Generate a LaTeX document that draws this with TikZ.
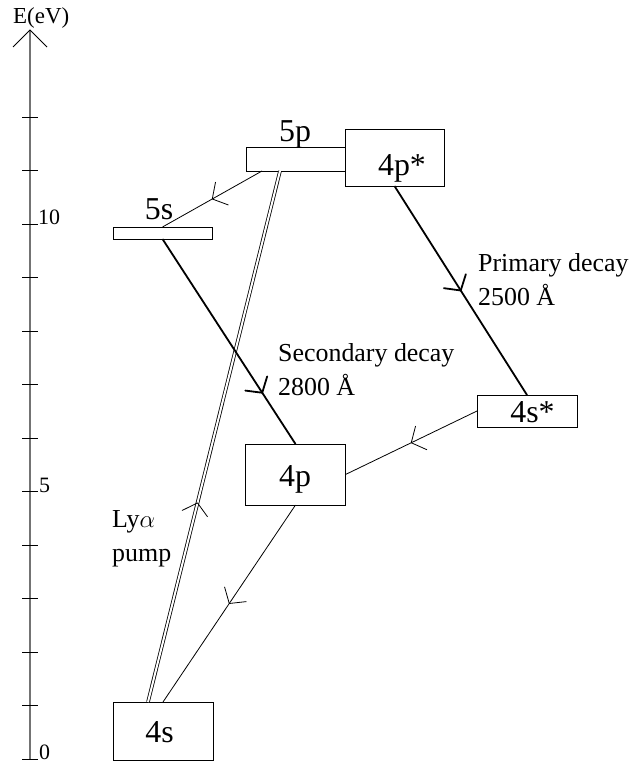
\documentclass[tikz,border=0pt]{standalone}
\usepackage{fontspec}
\setmainfont{Liberation Serif}
\usetikzlibrary{decorations.markings,calc}
\begin{document}
\begin{tikzpicture}[x=1bp,y=-1bp,
  levelbox/.style={draw=black, line width=0.8bp, inner sep=0pt, outer sep=0pt},
  boxlabel/.style={inner sep=0pt, anchor=base, font=\fontsize{32}{36}\selectfont},
  note/.style={inner sep=0pt, anchor=base west, font=\fontsize{26}{33}\selectfont},
  axlabel/.style={inner sep=0pt, anchor=base west, font=\fontsize{22}{26}\selectfont},
  weakline/.style={line width=0.8bp},
  strongline/.style={line width=1.8bp},
  pumpline/.style={double, double distance=2bp, line width=0.8bp},
  midarr/.style={postaction={decorate}, decoration={markings,
     mark=at position #1 with {\draw[line cap=round, line join=round]
        (-11bp,13bp) -- (0bp,0bp) -- (-11bp,-13bp);}}}
]
\useasboundingbox (0,0) rectangle (632,763);

% axis
\coordinate (axbot) at (30,759);
\coordinate (axtop) at (30,30);
\draw[line width=1.2bp, draw=black!55] (axbot) -- (axtop);
\draw[line width=0.8bp] ($(axtop)+(-17,17)$) -- (axtop) -- ($(axtop)+(17,17)$);
\foreach \k in {0,...,12}{
  \draw[line width=0.8bp] (22,759-53.5*\k) -- (38,759-53.5*\k);
}
\node[axlabel, font=\fontsize{23}{26}\selectfont] (elab) at (13,23.5) {E(eV)};
\node[axlabel] (t10) at (38,224.5) {10};
\node[axlabel] (t5) at (39,492) {5};
\node[axlabel] (t0) at (39,759) {0};

% level boxes
\node[levelbox, minimum width=100bp, minimum height=58bp] (s4) at (163,731) {};
\node[levelbox, minimum width=100bp, minimum height=61bp] (p4) at (295.5,474.5) {};
\node[levelbox, minimum width=100bp, minimum height=32bp] (s4star) at (527,411) {};
\node[levelbox, minimum width=99bp, minimum height=57bp] (p4star) at (394.5,157.5) {};
\node[levelbox, minimum width=99bp, minimum height=24bp] (p5) at (295.5,159) {};
\node[levelbox, minimum width=99bp, minimum height=12bp] (s5) at (162.5,233) {};

% labels
\node[boxlabel] (ls4) at (159.5,742.7) {4s};
\node[boxlabel] (lp4) at (295,486.7) {4p};
\node[boxlabel] (ls4s) at (532.5,422.7) {4s*};
\node[boxlabel] (lp4s) at (402,175.7) {4p*};
\node[boxlabel] (lp5) at (295,141.7) {5p};
\node[boxlabel] (ls5) at (159,219.3) {5s};

\node[note] (pri1) at (478,271.7) {Primary decay};
\node[note] (pri2) at (478,305) {2500 Å};
\node[note] (sec1) at (278,361.7) {Secondary decay};
\node[note] (sec2) at (278,395) {2800 Å};
\node[note] (ly1) at (112,527.7) {Ly$\alpha$};
\node[note] (ly2) at (112,561.5) {pump};

% transitions
\draw[weakline, midarr=0.5] ($(p5.south)+(-33.5,0)$) -- (s5.north);
\draw[pumpline] ($(s4.north)+(-15,0)$) -- ($(p5.south)+(-15.5,0)$);
\path[weakline, midarr=0.375] ($(s4.north)+(-15,0)$) -- ($(p5.south)+(-15.5,0)$);
\draw[weakline, midarr=0.5] (p4.south) -- (s4.north);
\draw[weakline, midarr=0.5] (s4star.west) -- (p4.east);
\draw[strongline, midarr=0.75] (s5.south) -- (p4.north);
\draw[strongline, midarr=0.5] (p4star.south) -- (s4star.north);
\end{tikzpicture}
\end{document}
